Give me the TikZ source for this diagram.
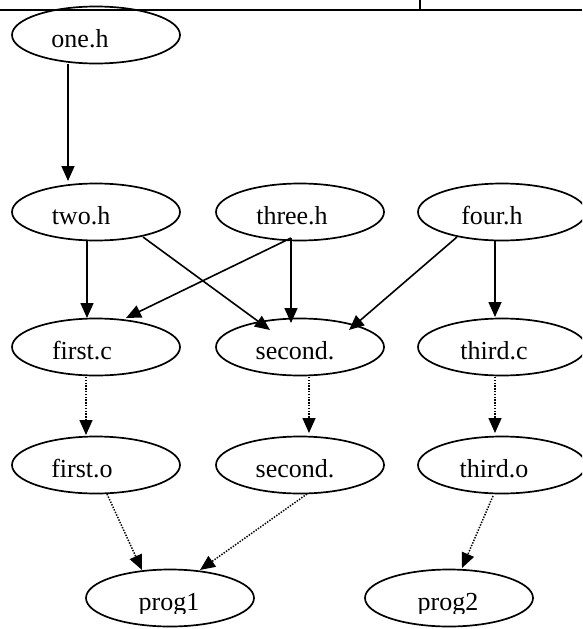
\documentclass[tikz,border=0pt]{standalone}
\usepackage{fontspec}
\setmainfont{Liberation Serif}
\usetikzlibrary{arrows.meta,calc,shapes.geometric}
\tikzset{
  ell/.style={draw=black,line width=1.7pt,ellipse,minimum width=168pt,minimum height=57pt,inner sep=0pt,outer sep=0pt},
  lbl/.style={anchor=base,inner sep=0pt,font=\fontsize{26}{31}\selectfont},
  arr/.style={line width=1.6pt,-{Triangle[length=15pt,width=13pt]}},
  dotarr/.style={line width=1.5pt,dash pattern=on 1.4pt off 1.4pt,-{Triangle[length=15pt,width=13pt]}},
}
\begin{document}
\begin{tikzpicture}[x=1pt,y=-1pt]
\useasboundingbox (0,0) rectangle (582,629);
\clip (0,0) rectangle (582,629);
\fill[white] (0,0) rectangle (582,629);
% frame lines at top
\draw[line width=1.8pt] (0,10) -- (582,10);
\draw[line width=1.8pt] (420,0) -- (420,10);
% nodes
\node[ell] (oneh) at (96,35) {};
\node[ell] (twoh) at (96,212) {};
\node[ell] (threeh) at (300,212) {};
\node[ell] (fourh) at (502,212) {};
\node[ell] (firstc) at (96,347) {};
\node[ell] (secondc) at (300,347) {};
\node[ell] (thirdc) at (502,347) {};
\node[ell] (firsto) at (96,465) {};
\node[ell] (secondo) at (300,465) {};
\node[ell] (thirdo) at (502,465) {};
\node[ell] (progA) at (170,598) {};
\node[ell] (progB) at (449,598) {};
% labels
\node[lbl] (oneh-t) at ($(oneh)+(-16,12.5)$) {one.h};
\node[lbl] (twoh-t) at ($(twoh)+(-15,12.5)$) {two.h};
\node[lbl] (threeh-t) at ($(threeh)+(-8,12.5)$) {three.h};
\node[lbl] (fourh-t) at ($(fourh)+(-10,12.5)$) {four.h};
\node[lbl] (firstc-t) at ($(firstc)+(-14,12.5)$) {first.c};
\node[lbl] (secondc-t) at ($(secondc)+(-5,12.5)$) {second.};
\node[lbl] (thirdc-t) at ($(thirdc)+(-8,12.5)$) {third.c};
\node[lbl] (firsto-t) at ($(firsto)+(-14,12.5)$) {first.o};
\node[lbl] (secondo-t) at ($(secondo)+(-5,12.5)$) {second.};
\node[lbl] (thirdo-t) at ($(thirdo)+(-8,12.5)$) {third.o};
\begin{scope}
\clip (0,0) rectangle (582,613);
\node[lbl] (progA-t) at ($(progA)+(-1,12.5)$) {prog1};
\node[lbl] (progB-t) at ($(progB)+(-1,12.5)$) {prog2};
\end{scope}
% solid edges
\draw[arr] ($(oneh)+(-28,29)$) -- ($(twoh)+(-28,-31)$);
\draw[arr] ($(twoh)+(-9,29)$) -- ($(firstc)+(-9,-29)$);
\draw[arr] ($(threeh)+(-9,26)$) -- ($(firstc)+(30,-29)$);
\draw[arr] ($(twoh)+(47,25)$) -- ($(secondc)+(-30,-17)$);
\draw[arr] ($(threeh)+(-9,26)$) -- ($(secondc)+(-9,-24)$);
\draw[arr] ($(fourh)+(-45,25)$) -- ($(secondc)+(49,-17)$);
\draw[arr] ($(fourh)+(-7,29)$) -- ($(thirdc)+(-7,-30)$);
% dotted edges
\draw[dotarr] ($(firstc)+(-10,30)$) -- ($(firsto)+(-10,-30)$);
\draw[dotarr] ($(secondc)+(9,30)$) -- ($(secondo)+(9,-32)$);
\draw[dotarr] ($(thirdc)+(-7,30)$) -- ($(thirdo)+(-7,-32)$);
\draw[dotarr] ($(firsto)+(11,29)$) -- ($(progA)+(-28,-28)$);
\draw[dotarr] ($(secondo)+(7,29)$) -- ($(progA)+(30,-28)$);
\draw[dotarr] ($(thirdo)+(-9,31)$) -- ($(progB)+(13,-30)$);
\end{tikzpicture}
\end{document}
